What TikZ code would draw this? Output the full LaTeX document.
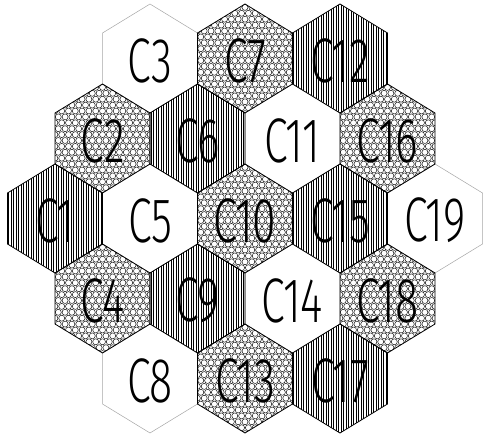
\documentclass[tikz,border=0pt]{standalone}
\usepackage{fontspec}
\newfontfamily\cellfont[FakeStretch=0.68]{Fira Sans Light}
% outline of one cell, centred at (#1,#2)
\newcommand{\hexcell}[2]{(#1,#2-54.5) -- (#1+47.5,#2-25.5) -- (#1+47.5,#2+25.5) -- (#1,#2+54.5) -- (#1-47.5,#2+25.5) -- (#1-47.5,#2-25.5) -- cycle}
% x / y / label / fill (0 plain, 1 lines, 2 rings)
\newcommand{\celllist}{150/58.5/C3/0, 245/58.5/C7/2, 340/58.5/C12/1,
  102.5/138.5/C2/2, 197.5/138.5/C6/1, 292.5/138.5/C11/0, 387.5/138.5/C16/2,
  55/218.5/C1/1, 150/218.5/C5/0, 245/218.5/C10/2, 340/218.5/C15/1, 435/218.5/C19/0,
  102.5/298.5/C4/2, 197.5/298.5/C9/1, 292.5/298.5/C14/0, 387.5/298.5/C18/2,
  150/378.5/C8/0, 245/378.5/C13/2, 340/378.5/C17/1}
\begin{document}
\begin{tikzpicture}[x=1pt, y=-1pt,
  cell label/.style={font=\cellfont\fontsize{63}{63}\selectfont, inner sep=0pt},
  plain edge/.style={gray!70, line width=0.5pt},
  cell edge/.style={black, line width=0.8pt},
  hatch/.style={black, line width=0.9pt},
  ring/.style={black, line width=0.45pt}]
  \useasboundingbox (0,0) rectangle (483,438);
  \fill[white] (0,0) rectangle (483,438);

  % fills
  \foreach \cx/\cy/\lab/\kind in \celllist {
    \begin{scope}
      \clip \hexcell{\cx}{\cy};
      \ifnum\kind=1
        \foreach \k in {0,...,39}
          \draw[hatch] ({\cx-49+\k*2.5},{\cy-56}) -- ++(0,112);
      \fi
      \ifnum\kind=2
        \foreach \j in {0,...,19}
          \foreach \i in {0,...,15}
            \draw[ring] ({\cx-51+\i*6.8+mod(\j,2)*3.4},{\cy-57+\j*5.9}) circle (3pt);
      \fi
    \end{scope}
    \ifnum\kind=0 \draw[plain edge] \hexcell{\cx}{\cy}; \fi
  }

  % edges and labels
  \foreach \cx/\cy/\lab/\kind in \celllist {
    \ifnum\kind>0 \draw[cell edge] \hexcell{\cx}{\cy}; \fi
    \node[cell label] (\lab) at (\cx,\cy+2) {\lab};
  }
\end{tikzpicture}
\end{document}
